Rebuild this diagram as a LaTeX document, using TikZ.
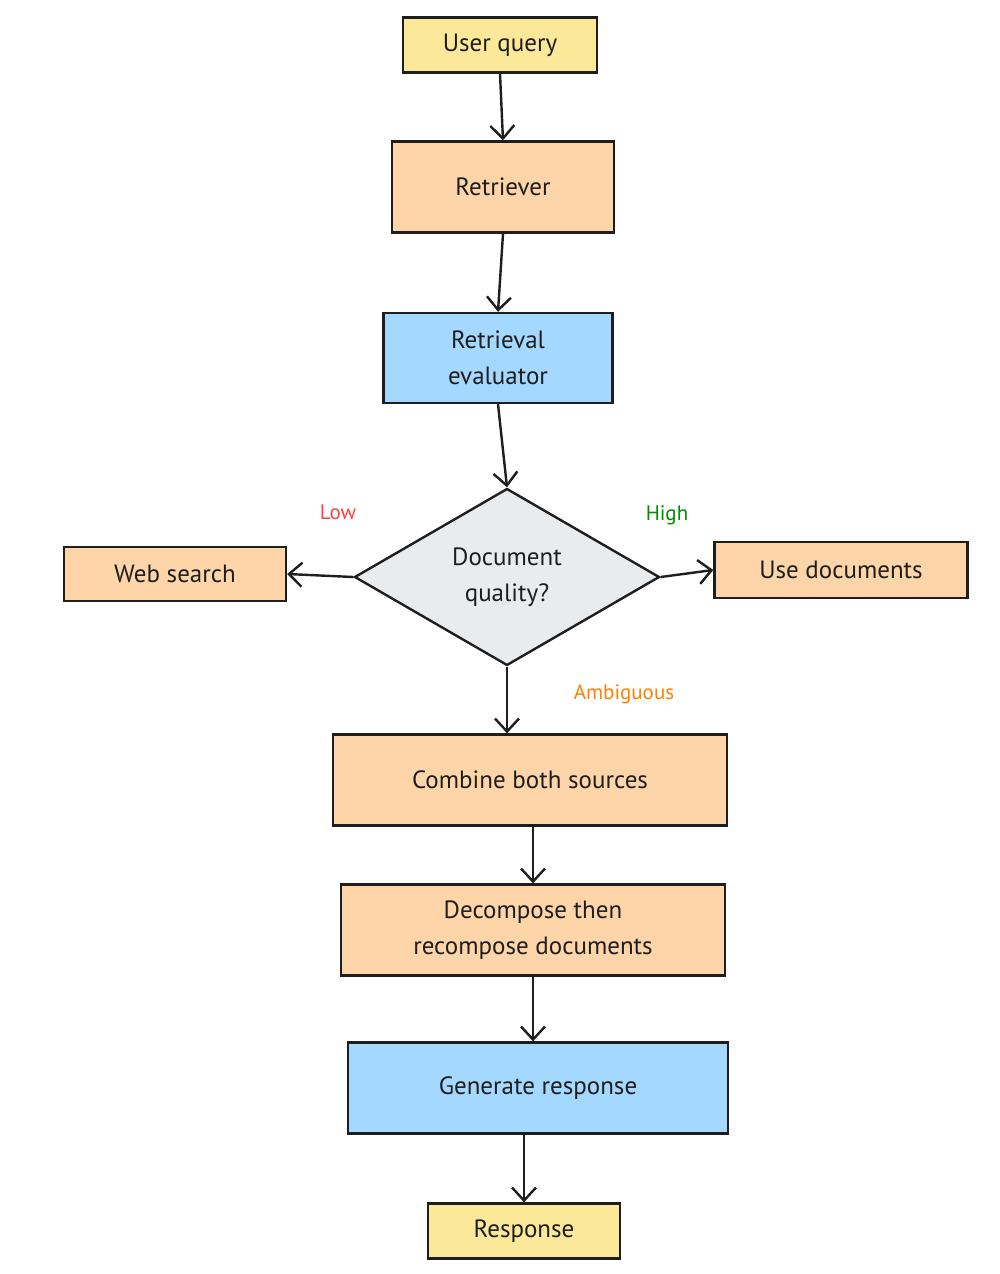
\documentclass[tikz,border=0pt]{standalone}
\usepackage{fontspec}
\setmainfont{PT Sans}
\usetikzlibrary{shapes.geometric,arrows.meta}
\definecolor{cyel}{HTML}{FBE999}
\definecolor{corg}{HTML}{FDD5A8}
\definecolor{cblu}{HTML}{A5D8FF}
\definecolor{cgry}{HTML}{E9ECEF}
\definecolor{ctxt}{HTML}{1E1E1E}
\begin{document}
\begin{tikzpicture}[x=1pt,y=-1pt,
  box/.style={draw=ctxt,line width=2.4pt,inner sep=0pt,align=center,font=\fontsize{25}{36}\selectfont,text=ctxt},
  arr/.style={draw=ctxt,line width=2.4pt,-{Straight Barb[length=13pt,width=24pt,line width=2.4pt]}},
  lab/.style={font=\fontsize{21}{24}\selectfont}]
\useasboundingbox (0,0) rectangle (1000,1274);
\node[box,fill=cyel,minimum width=194pt,minimum height=55pt] (uq) at (500,45) {User query};
\node[box,fill=corg,minimum width=222pt,minimum height=91pt] (re) at (503,187) {Retriever};
\node[box,fill=cblu,minimum width=229pt,minimum height=90pt] (ev) at (498,358) {Retrieval\\evaluator};
\node[box,fill=cgry,diamond,minimum width=305pt,minimum height=177pt] (dq) at (507,577) {Document\\quality?};
\node[box,fill=corg,minimum width=222pt,minimum height=54pt] (ws) at (175,574) {Web search};
\node[box,fill=corg,minimum width=253pt,minimum height=56pt] (ud) at (841,570) {Use documents};
\node[box,fill=corg,minimum width=394pt,minimum height=91pt] (cb) at (530,780) {Combine both sources};
\node[box,fill=corg,minimum width=384pt,minimum height=91pt] (dc) at (533,930) {Decompose then\\recompose documents};
\node[box,fill=cblu,minimum width=380pt,minimum height=91pt] (gr) at (538,1088) {Generate response};
\node[box,fill=cyel,minimum width=192pt,minimum height=55pt] (rs) at (524,1231) {Response};
\node[lab,text=red!75!white] (lo) at (338,512) {Low};
\node[lab,text=green!55!black] (hi) at (667,515) {High};
\node[lab,text=orange] (am) at (624,694) {Ambiguous};
\draw[arr] (uq.south) -- (re.north);
\draw[arr] (re.south) -- (ev.north);
\draw[arr] (ev.south) -- (dq.north);
\draw[arr] (dq.west) -- (ws.east);
\draw[arr] (dq.east) -- (ud.west);
\draw[arr] (dq.south) -- (dq.south|-cb.north);
\draw[arr] (dc.north|-cb.south) -- (dc.north);
\draw[arr] (dc.south) -- (dc.south|-gr.north);
\draw[arr] (rs.north|-gr.south) -- (rs.north);
\end{tikzpicture}
\end{document}
